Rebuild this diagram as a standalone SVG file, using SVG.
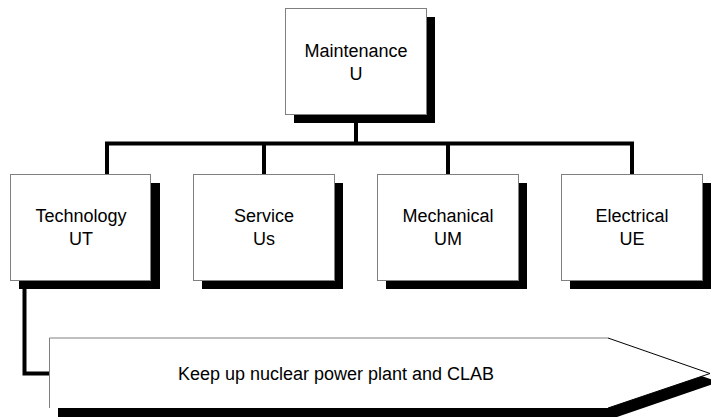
<svg xmlns="http://www.w3.org/2000/svg" width="711" height="417" viewBox="0 0 711 417">
<style>
.shadow{fill:#000}
.box{fill:#fff;stroke:#808080;stroke-width:1}
.lbl{font-family:"Liberation Sans",Arial,sans-serif;font-size:18px;fill:#000;text-anchor:middle}
.conn{fill:none;stroke:#000;stroke-width:4;stroke-linejoin:miter}
</style>
<rect x="0" y="0" width="711" height="417" fill="#fff"/>
<g id="connectors">
<path class="conn" d="M356,114 V143.5"/>
<path class="conn" d="M107,174 V143.5 H632 V174"/>
<path class="conn" d="M264,143.5 V174"/>
<path class="conn" d="M448,143.5 V174"/>
<path class="conn" d="M24.5,280 V373.5 H49"/>
</g>
<g id="maintenance">
<rect class="shadow" x="294" y="17" width="141" height="106"/>
<rect class="box" x="285.5" y="8.5" width="141" height="106"/>
<text class="lbl" x="356" y="57">Maintenance</text>
<text class="lbl" x="356" y="80">U</text>
</g>
<g id="technology">
<rect class="shadow" x="19" y="183" width="141" height="106"/>
<rect class="box" x="10.5" y="174.5" width="140" height="106"/>
<text class="lbl" x="81" y="222">Technology</text>
<text class="lbl" x="81" y="245">UT</text>
</g>
<g id="service">
<rect class="shadow" x="202" y="183" width="141" height="106"/>
<rect class="box" x="193.5" y="174.5" width="141" height="106"/>
<text class="lbl" x="264" y="222">Service</text>
<text class="lbl" x="264" y="245">Us</text>
</g>
<g id="mechanical">
<rect class="shadow" x="386" y="183" width="141" height="106"/>
<rect class="box" x="377.5" y="174.5" width="141" height="106"/>
<text class="lbl" x="448" y="222">Mechanical</text>
<text class="lbl" x="448" y="245">UM</text>
</g>
<g id="electrical">
<rect class="shadow" x="570" y="183" width="141" height="106"/>
<rect class="box" x="561.5" y="174.5" width="141" height="106"/>
<text class="lbl" x="632" y="222">Electrical</text>
<text class="lbl" x="632" y="245">UE</text>
</g>
<g id="arrow">
<polygon class="shadow" points="58,347 617,347 719,382 617,417 58,417"/>
<polygon points="49.5,338 608,338 710,373.5 608,408 49.5,408" fill="#fff" stroke="none"/>
<path d="M49.5,408 V338 H608" fill="none" stroke="#808080" stroke-width="1"/>
<path d="M608,338 L710,373.5 L608,408" fill="none" stroke="#000" stroke-width="1"/>
<text class="lbl" x="336" y="380">Keep up nuclear power plant and CLAB</text>
</g>
</svg>
